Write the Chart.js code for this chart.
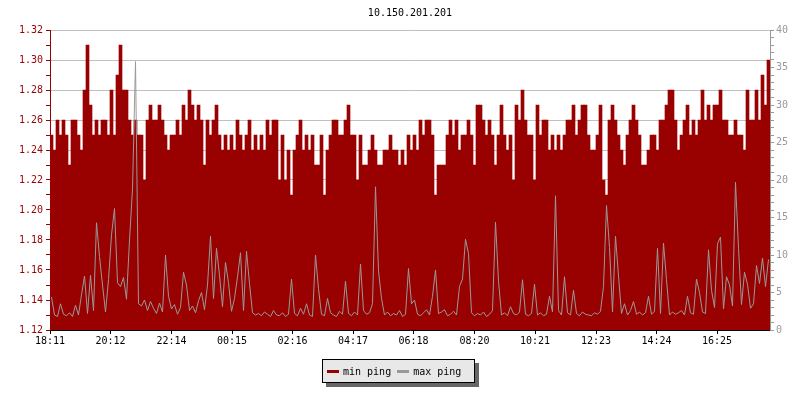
<!DOCTYPE html>
<html>
<head>
<meta charset="utf-8">
<title>10.150.201.201</title>
<script src="https://cdn.jsdelivr.net/npm/chart.js@4"></script>
<style>
    body { margin: 0; background: #fff; }
    #wrap { position: relative; width: 800px; height: 400px; }
    #legend {
        position: absolute; left: 322px; top: 359px; width: 153px; height: 24px;
        box-sizing: border-box; border: 1px solid #000; background: #e8e8e8;
        box-shadow: 4px 4px 0 #666; padding-left: 4px;
        display: flex; align-items: center;
        font: 10px 'DejaVu Sans Mono', monospace; color: #000; white-space: nowrap;
    }
    #legend .sw { display: inline-block; width: 12px; height: 3px; margin-right: 4px; }
    #legend .lb { margin-right: 6px; }
</style>
</head>
<body>
<div id="wrap">
    <canvas id="pingChart" width="800" height="400"></canvas>
    <div id="legend"></div>
</div>
<script>
/* ---- data ---- */
const chartTitle = '10.150.201.201';
const tickTimes = ['18:11', '20:12', '22:14', '00:15', '02:16', '04:17', '06:18', '08:20', '10:21', '12:23', '14:24', '16:25'];
const sampleMinutes = 6;

// min ping (left axis), one sample every 6 minutes
const minPing = [
    1.25, 1.24, 1.26, 1.25, 1.26, 1.25, 1.23, 1.26, 1.26, 1.25,
    1.24, 1.28, 1.31, 1.27, 1.25, 1.26, 1.25, 1.26, 1.26, 1.25,
    1.28, 1.25, 1.29, 1.31, 1.28, 1.28, 1.26, 1.25, 1.26, 1.25,
    1.25, 1.22, 1.26, 1.27, 1.26, 1.26, 1.27, 1.26, 1.25, 1.24,
    1.25, 1.25, 1.26, 1.25, 1.27, 1.26, 1.28, 1.27, 1.26, 1.27,
    1.26, 1.23, 1.26, 1.25, 1.26, 1.27, 1.25, 1.24, 1.25, 1.24,
    1.25, 1.24, 1.26, 1.25, 1.24, 1.25, 1.26, 1.24, 1.25, 1.24,
    1.25, 1.24, 1.26, 1.25, 1.26, 1.26, 1.22, 1.25, 1.22, 1.24,
    1.21, 1.24, 1.25, 1.26, 1.24, 1.25, 1.24, 1.25, 1.23, 1.23,
    1.25, 1.21, 1.24, 1.25, 1.26, 1.26, 1.25, 1.25, 1.26, 1.27,
    1.25, 1.25, 1.22, 1.25, 1.23, 1.23, 1.24, 1.25, 1.24, 1.23,
    1.23, 1.24, 1.24, 1.25, 1.24, 1.24, 1.23, 1.24, 1.23, 1.25,
    1.24, 1.25, 1.24, 1.26, 1.25, 1.26, 1.26, 1.25, 1.21, 1.23,
    1.23, 1.23, 1.25, 1.26, 1.25, 1.26, 1.24, 1.25, 1.25, 1.26,
    1.25, 1.23, 1.27, 1.27, 1.26, 1.25, 1.26, 1.25, 1.23, 1.25,
    1.27, 1.25, 1.24, 1.25, 1.22, 1.27, 1.26, 1.28, 1.26, 1.25,
    1.25, 1.22, 1.27, 1.25, 1.26, 1.26, 1.24, 1.25, 1.24, 1.25,
    1.24, 1.25, 1.26, 1.26, 1.27, 1.25, 1.26, 1.27, 1.27, 1.25,
    1.24, 1.24, 1.25, 1.27, 1.22, 1.21, 1.26, 1.27, 1.26, 1.25,
    1.24, 1.23, 1.25, 1.26, 1.27, 1.26, 1.25, 1.23, 1.23, 1.24,
    1.25, 1.25, 1.24, 1.26, 1.26, 1.27, 1.28, 1.28, 1.26, 1.24,
    1.25, 1.26, 1.27, 1.25, 1.26, 1.25, 1.26, 1.28, 1.26, 1.27,
    1.26, 1.27, 1.27, 1.28, 1.26, 1.26, 1.25, 1.25, 1.26, 1.25,
    1.25, 1.24, 1.28, 1.26, 1.26, 1.28, 1.26, 1.29, 1.27, 1.30
];

// max ping (right axis)
const maxPing = [
    4.4, 2.0, 1.8, 3.5, 2.1, 1.9, 2.3, 1.8, 3.3, 2.0,
    4.7, 7.2, 2.2, 7.3, 2.6, 14.3, 9.8, 6.0, 2.4, 6.7,
    12.7, 16.2, 6.3, 5.8, 7.0, 4.1, 12.0, 18.8, 35.8, 3.5,
    3.2, 4.0, 2.6, 3.8, 2.9, 2.2, 3.6, 2.4, 10.0, 4.5,
    2.8, 3.4, 2.1, 3.0, 7.7, 6.0, 2.6, 3.2, 2.3, 3.9,
    5.0, 2.7, 6.0, 12.5, 4.2, 10.9, 7.3, 3.1, 9.0, 6.3,
    2.5, 4.2, 7.1, 10.3, 2.6, 10.5, 6.2, 2.3, 2.0, 2.2,
    1.9, 2.4, 2.1, 1.8, 2.6, 2.0, 1.9, 2.3, 1.8, 2.1,
    6.8, 2.2, 1.9, 2.9, 2.1, 3.5, 2.0, 1.8, 10.0, 5.5,
    2.1, 1.9, 4.2, 2.3, 2.0, 1.8, 2.5, 2.1, 6.5, 2.2,
    1.9, 2.4, 2.0, 8.8, 2.6, 2.1, 2.3, 3.5, 19.1, 7.9,
    4.2, 2.0, 2.4, 1.9, 2.2, 2.0, 2.6, 1.8, 2.1, 8.2,
    3.5, 4.0, 2.1, 1.9, 2.3, 2.7, 2.0, 4.5, 8.0, 2.2,
    2.4, 2.7, 1.9, 2.1, 2.5, 2.0, 5.8, 6.8, 12.1, 10.2,
    2.3, 1.9, 2.2, 2.0, 2.4, 1.8, 2.1, 2.6, 14.4, 6.5,
    2.0, 2.3, 1.9, 3.1, 2.2, 2.0, 2.4, 6.7, 2.1, 1.9,
    2.2, 6.1, 2.0, 2.3, 1.9, 2.1, 4.5, 2.4, 17.9, 2.6,
    2.0, 7.1, 2.3, 2.0, 5.3, 2.2, 1.9, 2.4, 2.1, 2.0,
    1.9, 2.3, 2.1, 2.5, 5.8, 16.6, 11.0, 2.4, 12.5, 7.2,
    2.2, 3.5, 2.0, 2.6, 3.8, 2.1, 2.4, 2.0, 2.3, 4.5,
    2.1, 2.5, 10.9, 2.2, 11.6, 6.7, 2.0, 2.4, 2.1, 2.3,
    2.6, 2.0, 4.5, 2.3, 2.1, 6.8, 5.0, 2.4, 2.2, 10.7,
    5.3, 3.0, 11.5, 12.4, 2.8, 7.1, 6.0, 3.2, 19.7, 10.9,
    3.4, 7.7, 6.1, 2.9, 3.5, 8.6, 6.2, 9.6, 5.8, 9.4
];

const RED = '#990000';
const GRAY = '#999999';
const MONO = { family: "'DejaVu Sans Mono', monospace", size: 10, weight: 'normal' };

// minutes since the first tick label (wraps past midnight)
function minutesFromStart(t) {
    const [h, m] = t.split(':').map(Number);
    const [h0, m0] = tickTimes[0].split(':').map(Number);
    let d = h * 60 + m - (h0 * 60 + m0);
    if (d < 0) d += 1440;
    return d;
}

const toPoints = arr => arr.map((v, i) => ({ x: i * sampleMinutes + sampleMinutes / 2, y: v }));

const chart = new Chart(document.getElementById('pingChart'), {
    data: {
        datasets: [
            { type: 'bar', label: 'min ping', data: toPoints(minPing), yAxisID: 'y',
              backgroundColor: RED, borderWidth: 0, barPercentage: 1, categoryPercentage: 1, order: 2 },
            { type: 'line', label: 'max ping', data: toPoints(maxPing), yAxisID: 'y1',
              borderColor: GRAY, backgroundColor: GRAY, borderWidth: 1, pointRadius: 0,
              tension: 0, fill: false, order: 1 }
        ]
    },
    options: {
        responsive: false, animation: false,
        layout: { padding: 0 },
        plugins: {
            legend: { display: false },
            tooltip: { enabled: false },
            title: { display: true, text: chartTitle, color: '#000', font: MONO,
                     fullSize: false, padding: { top: 7, bottom: 11 } }
        },
        scales: {
            x: {
                type: 'linear', offset: false, min: 0, max: minPing.length * sampleMinutes, bounds: 'data',
                afterFit: s => { s.height = 70; },
                afterBuildTicks: s => { s.ticks = tickTimes.map(t => ({ value: minutesFromStart(t) })); },
                ticks: { autoSkip: false, maxRotation: 0, color: '#000', font: MONO, padding: 1,
                         callback: (v, i) => tickTimes[i] },
                grid: { offset: false, drawOnChartArea: false, tickColor: '#000', tickLength: 4 },
                border: { color: '#000' }
            },
            y: {
                position: 'left', min: 1.12, max: 1.32,
                afterFit: s => { s.width = 50; },
                ticks: { stepSize: 0.01, autoSkip: false, color: RED, font: MONO, padding: 3,
                         callback: v => Math.round(v * 100) % 2 === 0 ? v.toFixed(2) : '' },
                grid: { color: c => c.tick && Math.round(c.tick.value * 100) % 2 === 0 ? '#c0c0c0' : 'rgba(0,0,0,0)',
                        tickColor: RED, tickLength: 4 },
                border: { color: RED }
            },
            y1: {
                position: 'right', min: 0, max: 40,
                afterFit: s => { s.width = 30; },
                ticks: { stepSize: 1, autoSkip: false, color: GRAY, font: MONO, padding: 2,
                         callback: v => v % 5 === 0 ? String(v) : '' },
                grid: { drawOnChartArea: false, tickColor: GRAY, tickLength: 4 },
                border: { color: GRAY }
            }
        }
    }
});

// legend box under the chart, built from the datasets
document.getElementById('legend').innerHTML = chart.data.datasets.map(d =>
    `<span class="sw" style="background:${d.type === 'bar' ? d.backgroundColor : d.borderColor}"></span><span class="lb">${d.label}</span>`
).join('');
</script>
</body>
</html>
